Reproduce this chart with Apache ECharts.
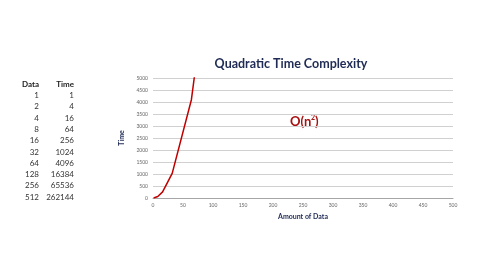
<!DOCTYPE html>
<html><head><meta charset="utf-8">
<script src="https://cdn.jsdelivr.net/npm/echarts@6/dist/echarts.min.js"></script>
<style>html,body{margin:0;padding:0;background:#fff}#c{width:480px;height:270px}</style>
</head><body><div id="c"></div>
<script>
var dataSizes = [1, 2, 4, 8, 16, 32, 64, 128, 256, 512];
var timeValues = [1, 4, 16, 64, 256, 1024, 4096, 16384, 65536, 262144];
var titleText = 'Quadratic Time Complexity';
var xName = 'Amount of Data';
var yName = 'Time';

var chart = echarts.init(document.getElementById('c'));
var graphics = [];
var fontFam = 'Lato, "Open Sans", sans-serif';
graphics.push({type:'text', style:{text:'Data', x:39, y:84, align:'right', verticalAlign:'middle', font:'bold 8px ' + fontFam, fill:'#222'}});
graphics.push({type:'text', style:{text:'Time', x:74, y:84, align:'right', verticalAlign:'middle', font:'bold 8px ' + fontFam, fill:'#222'}});
for (var i = 0; i < dataSizes.length; i++) {
  var yy = 95.5 + i * 11.3;
  graphics.push({type:'text', style:{text:String(dataSizes[i]), x:39, y:yy, align:'right', verticalAlign:'middle', font:'8px ' + fontFam, fill:'#333'}});
  graphics.push({type:'text', style:{text:String(timeValues[i]), x:74, y:yy, align:'right', verticalAlign:'middle', font:'8px ' + fontFam, fill:'#333'}});
}
graphics.push({type:'text', style:{text:'O(n', x:290, y:122, align:'left', verticalAlign:'middle', font:'bold 13px ' + fontFam, fill:'#A80F0F'}});
graphics.push({type:'text', style:{text:'2', x:311, y:118, align:'left', verticalAlign:'middle', font:'bold 7px ' + fontFam, fill:'#A80F0F'}});
graphics.push({type:'text', style:{text:')', x:315, y:122, align:'left', verticalAlign:'middle', font:'bold 13px ' + fontFam, fill:'#A80F0F'}});

chart.setOption({
  animation:false,
  backgroundColor:'#fff',
  title:{text:titleText, left:286, top:52, textAlign:'center', textStyle:{fontFamily:fontFam, fontSize:12.5, fontWeight:'bold', color:'#1F2A55'}},
  grid:{left:153, right:27, top:78, bottom:72},
  xAxis:{type:'value', min:0, max:500, interval:50,
    name:xName, nameLocation:'middle', nameGap:15,
    nameTextStyle:{fontFamily:fontFam, fontSize:7, fontWeight:'bold', color:'#1F2A55'},
    axisLine:{show:true, lineStyle:{color:'#A6A6A6', width:1}},
    axisTick:{show:false},
    axisLabel:{fontSize:5, color:'#666', margin:5, fontFamily:fontFam},
    splitLine:{show:false}},
  yAxis:{type:'value', min:0, max:5000, interval:500,
    name:yName, nameLocation:'middle', nameGap:21,
    nameTextStyle:{fontFamily:fontFam, fontSize:7, fontWeight:'bold', color:'#1F2A55'},
    axisLine:{show:false}, axisTick:{show:false},
    axisLabel:{fontSize:5, color:'#666', margin:5, fontFamily:fontFam, formatter:function(v){return String(v);}},
    splitLine:{show:true, lineStyle:{color:'#D0D0D0', width:1}}},
  series:[{type:'line', data:dataSizes.map(function(d,i){return [d, timeValues[i]];}),
    showSymbol:false, clip:true, lineStyle:{color:'#C00000', width:1.5}}],
  graphic:graphics
});
</script></body></html>
